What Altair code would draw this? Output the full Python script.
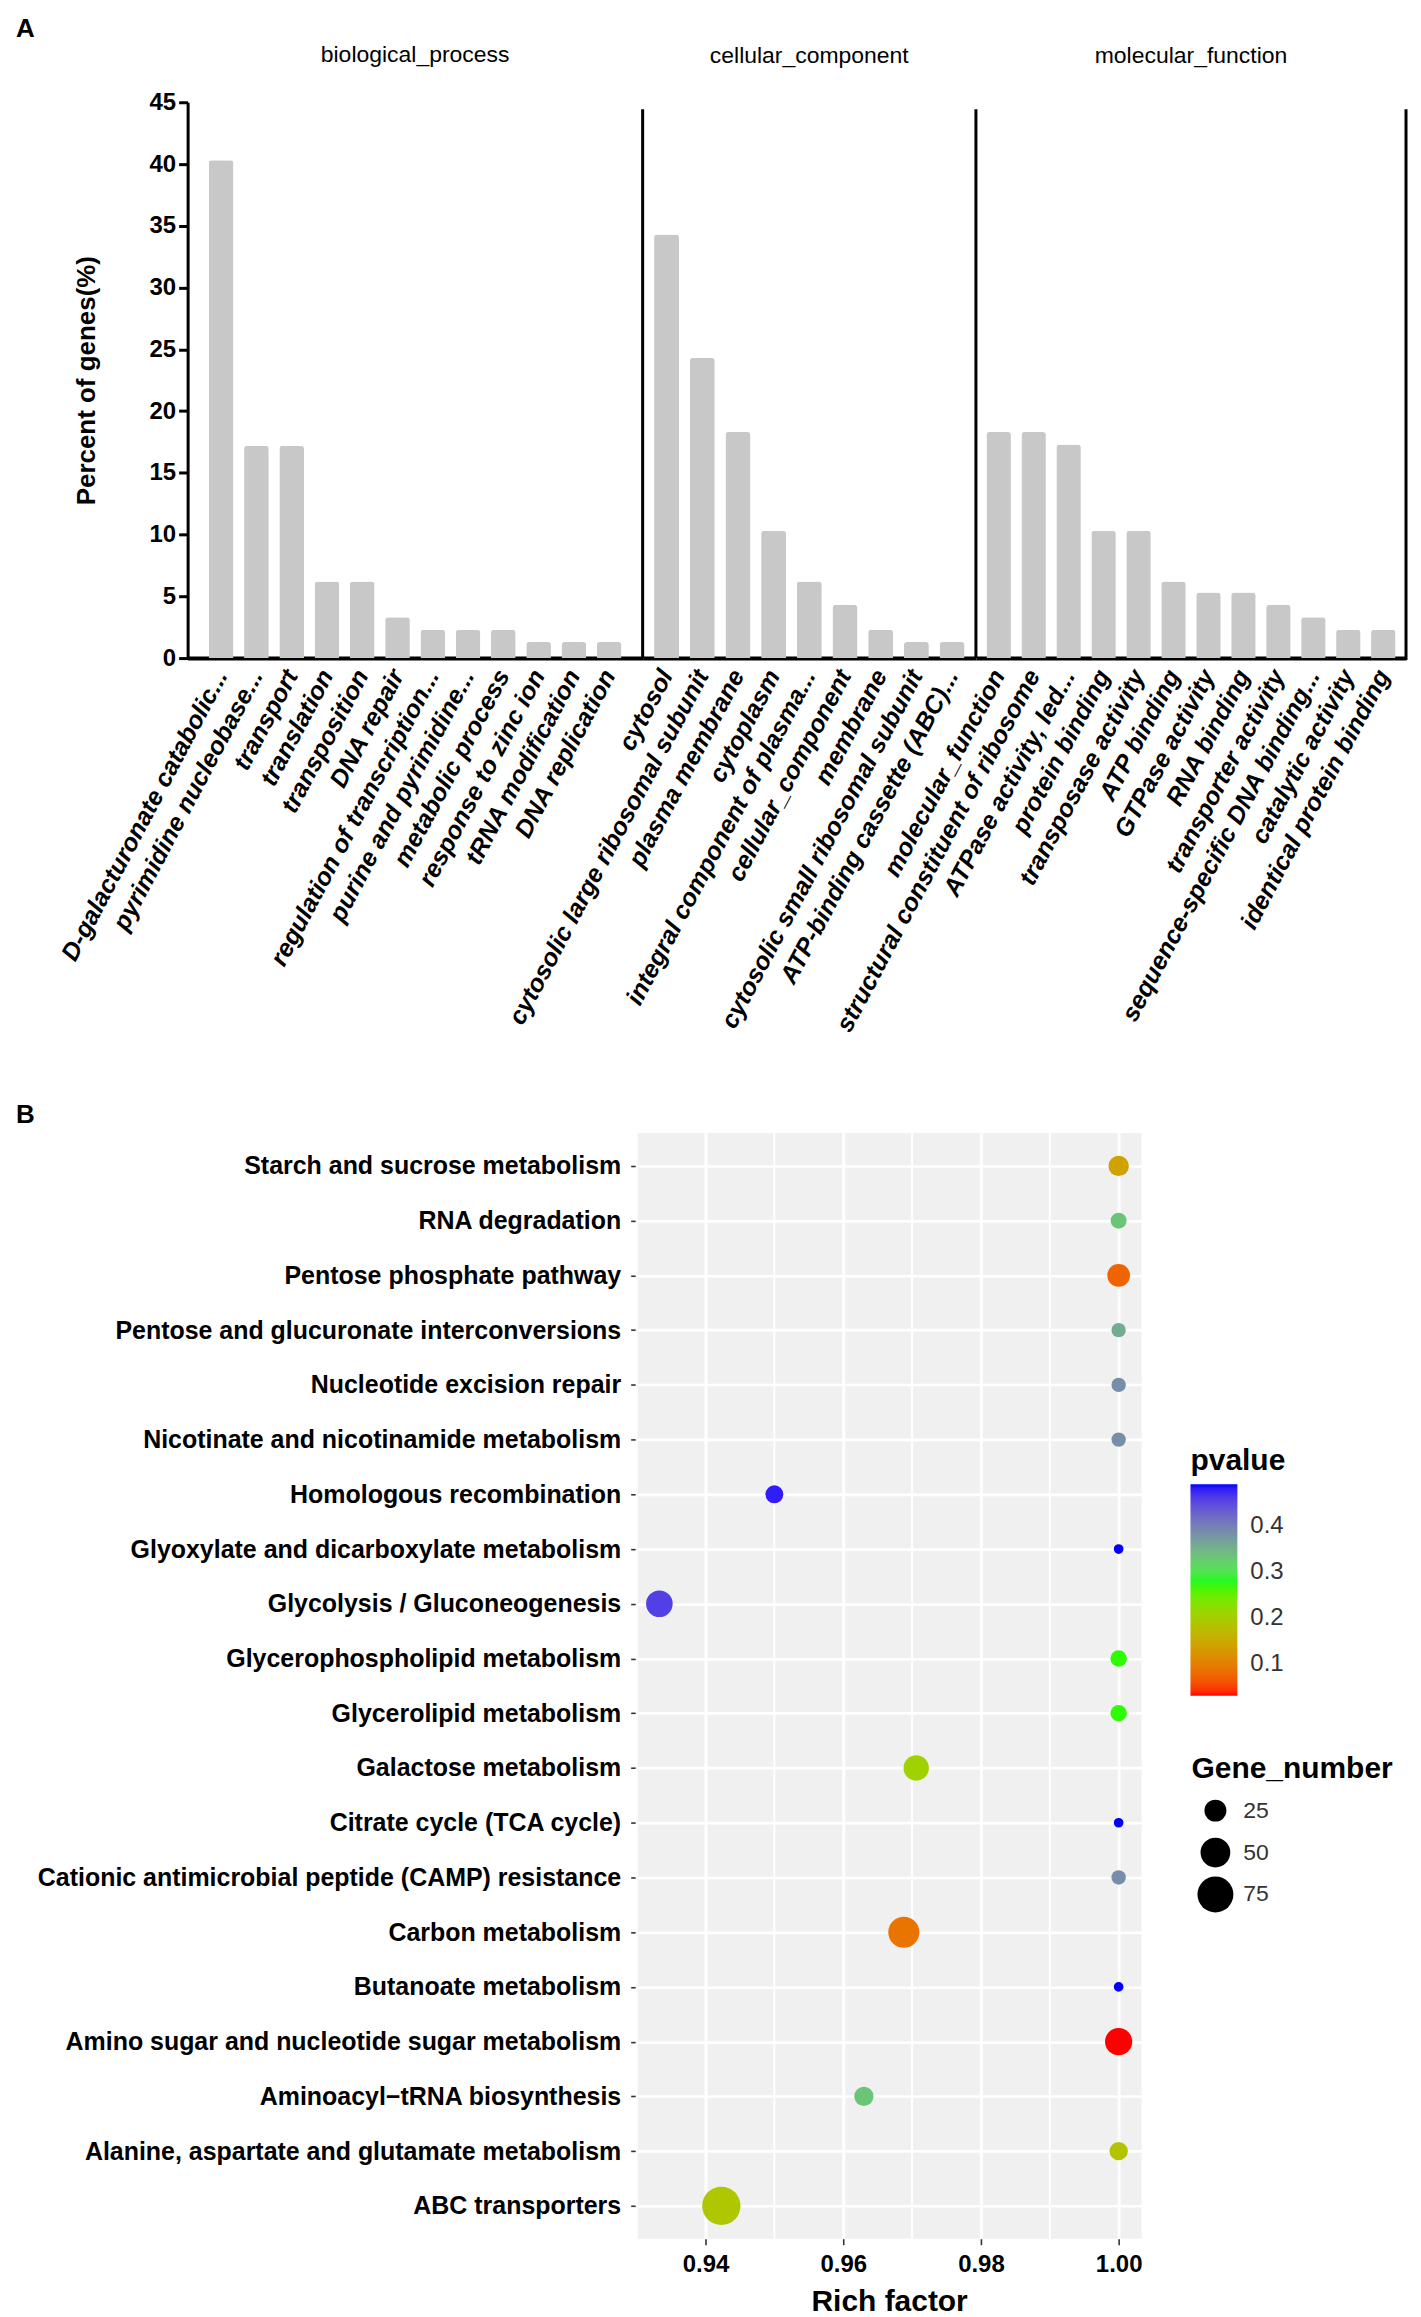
import altair as alt
import pandas as pd

FONT = "Liberation Sans"

# ---------------- Panel A data (GO terms, percent of genes) ----------------
bp_terms = ["D-galacturonate catabolic...", "pyrimidine nucleobase...", "transport",
            "translation", "transposition", "DNA repair", "regulation of transcription...",
            "purine and pyrimidine...", "metabolic process", "response to zinc ion",
            "tRNA modification", "DNA replication"]
bp_vals = [40.3, 17.2, 17.2, 6.2, 6.2, 3.3, 2.3, 2.3, 2.3, 1.3, 1.3, 1.3]

cc_terms = ["cytosol", "cytosolic large ribosomal subunit", "plasma membrane", "cytoplasm",
            "integral component of plasma...", "cellular_component", "membrane",
            "cytosolic small ribosomal subunit", "ATP-binding cassette (ABC)..."]
cc_vals = [34.3, 24.3, 18.3, 10.3, 6.2, 4.3, 2.3, 1.3, 1.3]

mf_terms = ["molecular_function", "structural constituent of ribosome", "ATPase activity, led...",
            "protein binding", "transposase activity", "ATP binding", "GTPase activity",
            "RNA binding", "transporter activity", "sequence-specific DNA binding...",
            "catalytic activity", "identical protein binding"]
mf_vals = [18.3, 18.3, 17.3, 10.3, 10.3, 6.2, 5.3, 5.3, 4.3, 3.3, 2.3, 2.3]

y_ticks_a = [0, 5, 10, 15, 20, 25, 30, 35, 40, 45]

# ---------------- Panel B data (KEGG enrichment) ----------------
pathways = ["Starch and sucrose metabolism", "RNA degradation", "Pentose phosphate pathway",
            "Pentose and glucuronate interconversions", "Nucleotide excision repair",
            "Nicotinate and nicotinamide metabolism", "Homologous recombination",
            "Glyoxylate and dicarboxylate metabolism", "Glycolysis / Gluconeogenesis",
            "Glycerophospholipid metabolism", "Glycerolipid metabolism", "Galactose metabolism",
            "Citrate cycle (TCA cycle)", "Cationic antimicrobial peptide (CAMP) resistance",
            "Carbon metabolism", "Butanoate metabolism",
            "Amino sugar and nucleotide sugar metabolism", "Aminoacyl\u2212tRNA biosynthesis",
            "Alanine, aspartate and glutamate metabolism", "ABC transporters"]
rich_factor = [1.0, 1.0, 1.0, 1.0, 1.0, 1.0, 0.95, 1.0, 0.9333, 1.0, 1.0, 0.9706, 1.0, 1.0,
               0.9688, 1.0, 1.0, 0.963, 1.0, 0.9423]
pvalues = [0.14, 0.33, 0.074, 0.357, 0.385, 0.385, 0.48, 0.49, 0.458, 0.27, 0.27, 0.206,
           0.49, 0.385, 0.089, 0.49, 0.03, 0.33, 0.185, 0.19]
gene_number = [21, 11, 27, 8, 8, 8, 15, 1, 39, 12, 12, 35, 1, 8, 55, 1, 41, 18, 16, 86]
x_ticks_b = [0.94, 0.96, 0.98, 1.00]
x_minor_b = [0.93, 0.95, 0.97, 0.99]
p_legend_vals = [0.1, 0.2, 0.3, 0.4]
size_legend_vals = [25, 50, 75]

BAR_H = 557


def bar_panel(terms, vals, title, width, pad_outer, first=False, last=False):
    df = pd.DataFrame({"term": terms, "pct": vals})
    if first:
        yaxis = alt.Axis(title="Percent of genes(%)", values=y_ticks_a, grid=False,
                         domainWidth=3, domainColor="black", tickWidth=3, tickSize=9,
                         tickColor="black", labelFontSize=24, labelFontWeight="bold",
                         labelColor="black", labelPadding=3, labelFont=FONT,
                         titleFont=FONT, titleFontSize=26, titleFontWeight="bold",
                         titleColor="black", titlePadding=50)
    else:
        yaxis = None
    bars = alt.Chart(df).mark_bar(color="#C8C8C8", cornerRadiusTopLeft=3,
                                  cornerRadiusTopRight=3).encode(
        x=alt.X("term:N", sort=terms,
                scale=alt.Scale(paddingInner=0.3, paddingOuter=pad_outer),
                axis=alt.Axis(title=None, labelAngle=-62, labelAlign="right",
                              labelBaseline="middle", labelFont=FONT, labelFontSize=25,
                              labelFontStyle="italic", labelFontWeight="bold",
                              labelColor="black", labelPadding=13, labelLimit=2000,
                              labelOverlap=False, ticks=False, tickSize=0,
                              domainWidth=4, domainColor="black")),
        y=alt.Y("pct:Q", scale=alt.Scale(domain=[0, 45], nice=False), axis=yaxis),
    )
    layers = [bars]
    if not first:
        layers.append(alt.Chart(pd.DataFrame({"s": [0]})).mark_rule(
            color="black", strokeWidth=3).encode(
            x=alt.value(0), y=alt.value(7), y2=alt.value(BAR_H)))
    if last:
        layers.append(alt.Chart(pd.DataFrame({"s": [0]})).mark_rule(
            color="black", strokeWidth=3).encode(
            x=alt.value(width), y=alt.value(7), y2=alt.value(BAR_H + 2)))
    return alt.layer(*layers).properties(
        width=width, height=BAR_H,
        title=alt.TitleParams(title, font=FONT, fontSize=23, fontWeight="normal",
                              color="black", anchor="middle",
                              offset=(23 if first else 34)))


bp = bar_panel(bp_terms, bp_vals, "biological_process", 456, 0.6, first=True)
cc = bar_panel(cc_terms, cc_vals, "cellular_component", 334, 0.32)
mf = bar_panel(mf_terms, mf_vals, "molecular_function", 431, 0.3, last=True)

panel_a = alt.hconcat(bp, cc, mf, spacing=0, bounds="flush").properties(
    title=alt.TitleParams("A", anchor="start", frame="group", dx=-172, font=FONT,
                          fontSize=26, fontWeight="bold", color="black", offset=2))

# ---------------- Panel B ----------------
dfb = pd.DataFrame({"pathway": pathways, "rich": rich_factor, "p": pvalues,
                    "genes": gene_number})
xscale = alt.Scale(domain=[0.93, 1.00333], nice=False, zero=False)
xaxis_b = alt.Axis(title="Rich factor", values=x_ticks_b, format=".2f",
                   grid=True, gridColor="white", gridWidth=3, domain=False,
                   tickSize=6, tickWidth=1.6, tickColor="#333333",
                   labelFont=FONT, labelFontSize=24, labelFontWeight="bold",
                   labelColor="black", labelPadding=8, titleFont=FONT,
                   titleFontSize=30, titleFontWeight="bold", titleColor="black",
                   titlePadding=10)

minor = alt.Chart(pd.DataFrame({"m": x_minor_b})).mark_rule(
    color="white", strokeWidth=2).encode(
    x=alt.X("m:Q", scale=xscale, axis=xaxis_b, title="Rich factor"))

points = alt.Chart(dfb).mark_circle(opacity=1, strokeWidth=0).encode(
    x=alt.X("rich:Q", scale=xscale, axis=xaxis_b, title="Rich factor"),
    y=alt.Y("pathway:N", sort=pathways, scale=alt.Scale(type="point", padding=0.6),
            axis=alt.Axis(title=None, grid=True, gridColor="white", gridWidth=2.7,
                          domain=False, tickSize=6, tickWidth=1.6, tickColor="#333333",
                          labelFont=FONT, labelFontSize=25, labelFontWeight="bold",
                          labelColor="black", labelPadding=10, labelLimit=2000)),
    color=alt.Color("p:Q",
                    scale=alt.Scale(domain=[0.03, 0.275, 0.49],
                                    range=["#ff0000", "#00ff00", "#0000ff"],
                                    interpolate="lab"),
                    legend=alt.Legend(title="pvalue", orient="none", legendX=555,
                                      legendY=314, values=p_legend_vals, format=".1f",
                                      direction="vertical", gradientLength=212,
                                      gradientThickness=47, gradientStrokeWidth=0,
                                      labelFont=FONT, labelFontSize=24,
                                      labelColor="#333333", labelOffset=13,
                                      titleFont=FONT, titleFontSize=30,
                                      titleFontWeight="bold", titleColor="black",
                                      titlePadding=8, titleLimit=500, padding=0)),
    size=alt.Size("genes:Q", scale=alt.Scale(domain=[0, 100], range=[78, 1702]),
                  legend=alt.Legend(title="Gene_number", orient="none", legendX=556,
                                    legendY=622, values=size_legend_vals,
                                    symbolFillColor="black", symbolStrokeColor="black",
                                    symbolStrokeWidth=0, symbolOpacity=1,
                                    symbolType="circle", symbolOffset=6,
                                    clipHeight=38, rowPadding=4,
                                    labelFont=FONT, labelFontSize=23,
                                    labelColor="#333333", labelOffset=10,
                                    titleFont=FONT, titleFontSize=30,
                                    titleFontWeight="bold", titleColor="black",
                                    titlePadding=8, titleLimit=500, padding=0)),
)

chart_b = alt.layer(minor, points).properties(
    width=506, height=1108,
    view=alt.ViewBackground(fill="#F0F0F0", stroke=None),
    title=alt.TitleParams("B", anchor="start", frame="group", dx=-622, font=FONT,
                          fontSize=26, fontWeight="bold", color="black", offset=4))

spacer = alt.Chart(pd.DataFrame({"s": [0]})).mark_point(opacity=0).encode(
    x=alt.value(0), y=alt.value(0)).properties(width=450, height=20)

panel_b = alt.hconcat(spacer, chart_b, spacing=0, bounds="flush").resolve_legend(
    color="independent", size="independent")

chart = alt.vconcat(panel_a, panel_b, spacing=66).resolve_legend(
    color="independent", size="independent").properties(
    padding={"left": 8, "top": 6, "right": 5, "bottom": 0},
    background="white",
).configure_view(stroke=None)

chart.save("out.html", embed_options={"renderer": "svg", "actions": False})
